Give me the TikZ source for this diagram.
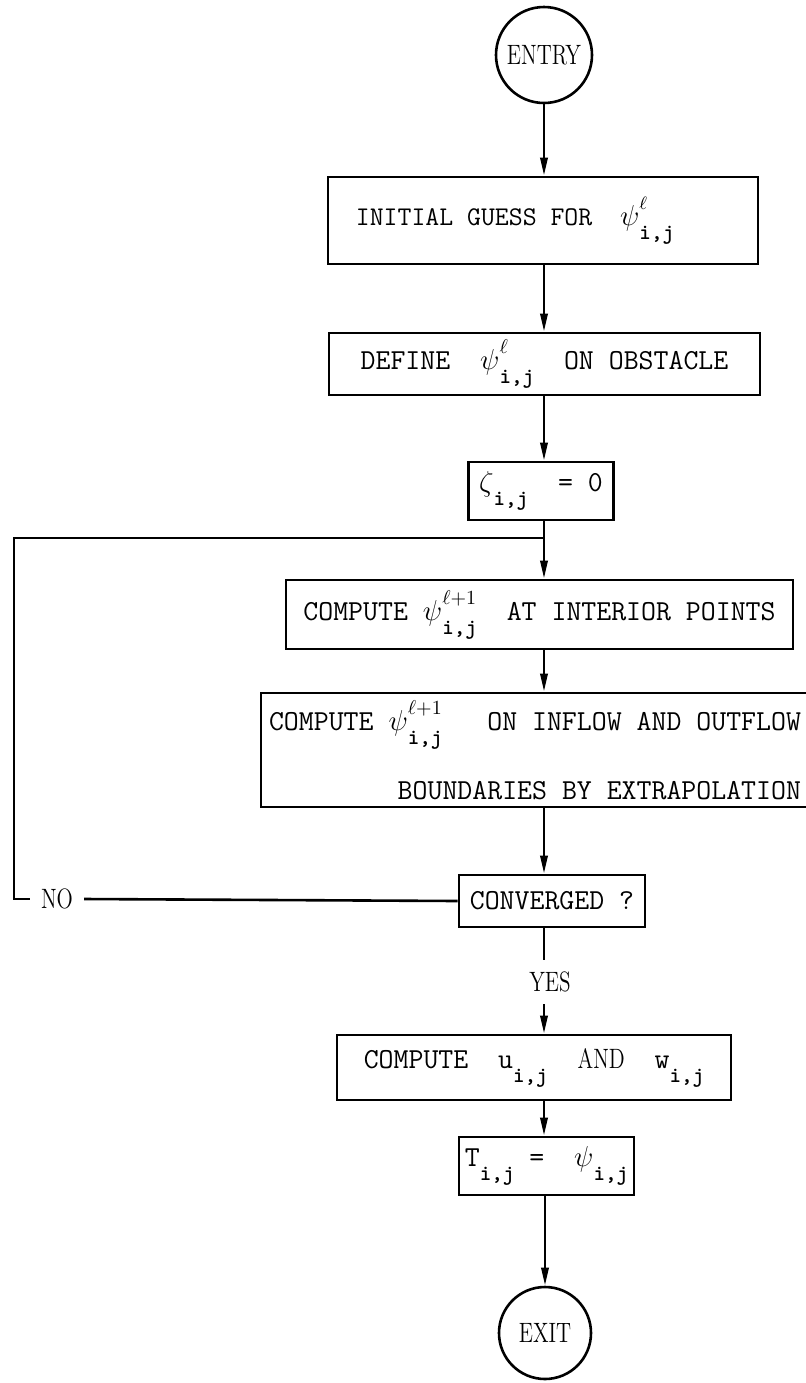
\documentclass[tikz,border=0pt]{standalone}
\usepackage{graphicx}
\usepackage{tikz}
\usetikzlibrary{shapes}
\usetikzlibrary{positioning}
\usetikzlibrary{arrows.meta}

\newcommand{\subfnt}{\fontsize{11}{12}\selectfont\bfseries}
\newcommand{\idx}[2]{#1\rlap{\raisebox{8pt}{$\scriptstyle #2$}}\raisebox{-7pt}{\subfnt i,j}}
\newcommand{\cond}[1]{\scalebox{0.76}[1]{\rmfamily\fontsize{14}{16}\selectfont #1}}

\begin{document}
\begin{tikzpicture}[
	x=0.5pt, y=-0.5pt,
	line width=1.3pt,
	font=\fontsize{14.5}{17}\selectfont\ttfamily
]
\tikzset{
    mybox/.style = {rectangle, draw=black, align=center, inner sep=2pt},
    mycircle/.style = {circle, draw=black, inner sep=0pt},
    myarrow/.style = {-{Triangle[length=9pt,width=3.6pt]}}
}
\useasboundingbox (0,0) rectangle (806,1383);
\node[mycircle,minimum size=48pt] (entry) at (544,55) {\cond{ENTRY}};
\node[mybox,minimum width=215pt,minimum height=43.5pt,font=\fontsize{13.5}{16}\selectfont\ttfamily] (init) at (543,220.5) {INITIAL GUESS FOR\ \ \idx{$\psi$}{\ell}\hspace{28pt}};
\node[mybox,minimum width=215.5pt,minimum height=31pt] (define) at (544.5,364) {DEFINE\ \ \idx{$\psi$}{\ell}\ \ ON OBSTACLE};
\node[mybox,minimum width=72.5pt,minimum height=29pt] (zeta) at (541,491) {\idx{$\zeta$}{}\ \ = 0};
\node[mybox,minimum width=253.5pt,minimum height=34.5pt] (interior) at (539.5,614.5) {COMPUTE \idx{$\psi$}{\ell+1}\ \ AT INTERIOR POINTS};
\node[mybox,minimum width=274pt,minimum height=57pt,align=right] (boundary) at (535,750) {COMPUTE \idx{$\psi$}{\ell+1}\ \ \ ON INFLOW AND OUTFLOW\\[15pt]BOUNDARIES BY EXTRAPOLATION};
\node[mybox,minimum width=93pt,minimum height=26pt] (conv) at (552,901) {CONVERGED ?};
\node[inner sep=5.5pt] (yes) at (550,982) {\cond{YES}};
\node[mybox,minimum width=197pt,minimum height=32.5pt] (uw) at (534,1067.5) {COMPUTE\ \ \idx{u}{}\ \ \cond{AND}\ \ \idx{w}{}};
\node[mybox,minimum width=87.5pt,minimum height=29pt] (tbox) at (546.5,1166) {\idx{T}{}\ =\ \ \idx{$\psi$}{}};
\node[mycircle,minimum size=46pt] (exit) at (545,1333) {\cond{EXIT}};
\node[inner xsep=5pt] (no) at (57,899) {\cond{NO}};
\coordinate (join) at (544,538);
\coordinate (corner) at (14,538);
\draw[myarrow] (entry) -- (entry |- init.north);
\draw[myarrow] (init.south -| entry) -- (define.north -| entry);
\draw[myarrow] (define.south -| entry) -- (zeta.north -| entry);
\draw[myarrow] (zeta.south -| entry) -- (join) -- (interior.north -| entry);
\draw[myarrow] (interior.south -| entry) -- (boundary.north -| entry);
\draw[myarrow] (boundary.south -| entry) -- (conv.north -| entry);
\draw (conv.south -| entry) -- (yes.north -| entry);
\draw[myarrow] (yes.south -| entry) -- (uw.north -| entry);
\draw[myarrow] (uw.south -| entry) -- (tbox.north -| entry);
\draw[myarrow] (tbox.south -| exit) -- (exit);
\draw (conv.west) -- (no.east);
\draw (no.west) -| (corner) -- (join);
\end{tikzpicture}
\end{document}
